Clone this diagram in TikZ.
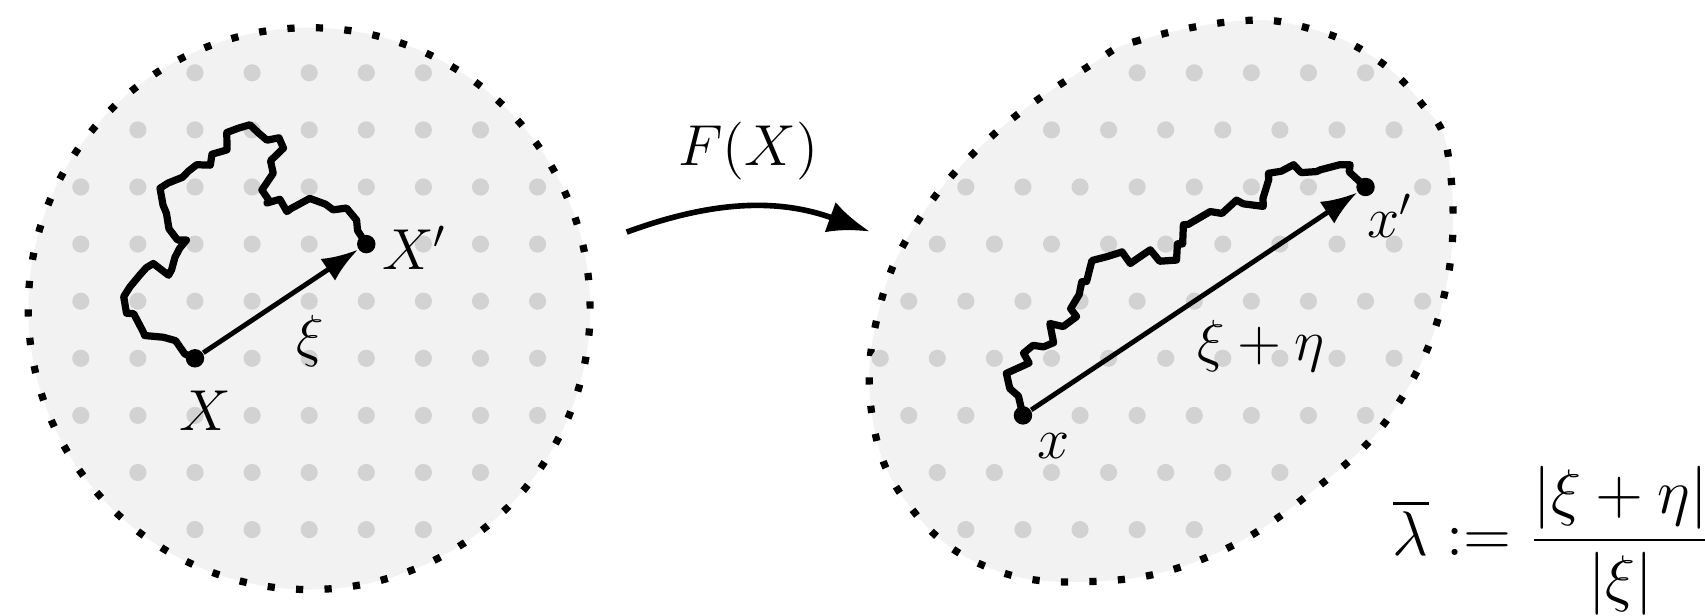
\documentclass[tikz,border=0pt]{standalone}
\usepackage{amsmath}
\usepackage{graphicx}
\usetikzlibrary{arrows.meta,positioning,decorations.pathmorphing}

\tikzset{
    blob/.style={fill=gray!10, draw=black, line width=1.8pt,
        dash pattern=on 1.8pt off 5.3pt},
    griddot/.style={fill=gray!35},
    pt/.style={circle, fill=black, inner sep=0pt, minimum size=4.6pt},
    walk/.style={line width=1.8pt, line join=round, decorate,
        decoration={random steps, segment length=3pt, amplitude=2.2pt}},
    vec/.style={line width=1.2pt, -{Latex[length=9pt, width=6.5pt]}},
    map/.style={line width=1.4pt, -{Latex[length=10.5pt, width=8pt]}},
}

\begin{document}
\begin{tikzpicture}[x=0.5cm, y=0.5cm, font=\Large]
    \pgfmathsetseed{7}
    \useasboundingbox (-3.415,-4.513) rectangle (26.445,6.275);

    % the two regions
    \draw[blob] (2,.87) circle (4.92);
    \draw[blob] plot[smooth cycle, tension=.7] coordinates {
        (18.3,5.91) (16.54,5.57) (15.69,5.14) (14.01,3.94) (12.67,2.42) (11.96,.77)
        (11.86,-1.02) (12.47,-2.53) (13.81,-3.63) (15.69,-3.91) (17.71,-3.49)
        (19.58,-2.32) (21.06,-.81) (21.92,1.3) (21.95,3.54) (21.45,4.5)
        (20.6,5.3) (19.5,5.78)};

    % lattice points, row / first / last
    \foreach \y/\a/\b in {5/0/4, 4/-1/5, 3/-2/6, 2/-2/6, 1/-2/6, 0/-2/6,
            -1/-2/6, -2/-1/5, -3/0/4}
        \foreach \x in {\a,...,\b}
            \fill[griddot] (\x,\y) circle (.15);
    \foreach \y/\a/\b in {5/16.5/20.5, 4/15/21, 3/13.5/21.5, 2/13/21,
            1/12.5/21.5, 0/12/21, -1/12.5/20.5, -2/13/19, -3/13.5/17.5}
        \foreach \x in {\a,...,\b}
            \fill[griddot] (\x,\y) circle (.15);

    \node[pt] (X) at (0,0) {};
    \node[pt] (Xp) at (3,2) {};
    \node[pt] (x) at (14.5,-1) {};
    \node[pt] (xp) at (20.5,3) {};

    % paths
    \draw[walk] (X.center) -- (-1.2,.79) -- (-1.14,1.25) -- (-.73,1.66)
        -- (-.41,1.55) -- (-.15,2.07) -- (-.5,2.54) -- (-.47,3.07)
        -- (.03,3.39) -- (.56,3.65) -- (.76,4.03) -- (.96,4.09)
        -- (1.26,3.82) -- (1.55,3.68) -- (1.37,3.24) -- (1.26,2.72)
        -- (1.61,2.57) -- (2.01,2.8) -- (2.42,2.6) -- (2.83,2.42) -- (Xp.center);
    \draw[walk] (x.center) -- (14.27,-.53) -- (14.51,.09) -- (14.86,.2)
        -- (14.97,.61) -- (15.44,.73) -- (15.53,1.34) -- (15.97,1.78)
        -- (16.38,1.66) -- (16.73,1.9) -- (17.19,1.72) -- (17.31,2.34)
        -- (17.78,2.57) -- (18.24,2.77) -- (18.71,2.66) -- (18.8,3.24)
        -- (19.24,3.39) -- (19.64,3.27) -- (20.05,3.39) -- (20.23,3.39)
        -- (xp.center);

    \draw[vec] (X) -- (Xp) node[pos=.5, below right, yshift=.5pt] (lxi) {$\xi$};
    \draw[vec] (x) -- (xp) node[pos=.46, below right, yshift=1.2pt] (lsum) {$\xi+\eta$};

    \node[below=2pt of X, xshift=2.6pt] (lX) {$X$};
    \node[right=-2pt of Xp, yshift=-1pt] (lXp) {$X'$};
    \node[below right=-.8pt and -1.6pt of x] (lx) {$x$};
    \node[below right=-3.6pt and -4.8pt of xp] (lxp) {$x'$};

    % the map
    \coordinate (fstart) at (7.56,2.21);
    \coordinate (fend) at (11.82,2.22);
    \draw[map] (fstart) to[bend left=20] node[midway, above=2.8pt] (lF) {$F(X)$} (fend);

    \node[anchor=base east] (lambda) at (26.83,-3.46)
        {\scalebox{1.09}{$\overline{\lambda} := \dfrac{|\xi+\eta|}{|\xi|}$}};
\end{tikzpicture}
\end{document}
